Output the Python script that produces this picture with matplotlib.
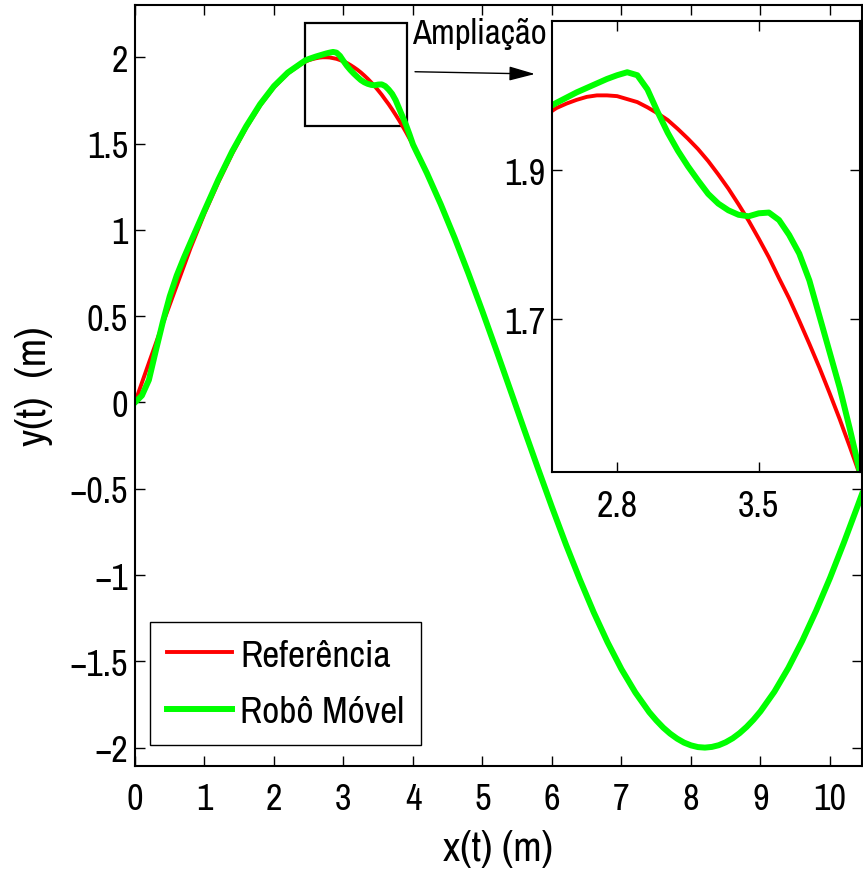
import matplotlib
matplotlib.use("Agg")
import matplotlib.pyplot as plt
from matplotlib.patches import Rectangle

# trajectory samples, x(t) and y(t) in metres (denser around the zoomed peak
# and the trough)
x_ref = [0.0, 0.2, 0.4, 0.6, 0.8, 1.0, 1.2, 1.4, 1.6, 1.8, 2.0, 2.2, 2.4,
         2.45, 2.5, 2.55, 2.6, 2.65, 2.7, 2.75, 2.8, 2.85, 2.9, 2.95, 3.0,
         3.05, 3.1, 3.15, 3.2, 3.25, 3.3, 3.35, 3.4, 3.45, 3.5, 3.55, 3.6,
         3.65, 3.7, 3.75, 3.8, 3.85, 3.9, 3.95, 4.0, 4.05, 4.1,
         4.2, 4.4, 4.6, 4.8, 5.0, 5.2, 5.4, 5.6, 5.8, 6.0, 6.2, 6.4, 6.6,
         6.8, 7.0, 7.2, 7.4, 7.5, 7.6, 7.7, 7.8, 7.9, 8.0, 8.1, 8.2, 8.3,
         8.4, 8.5, 8.6, 8.7, 8.8, 8.9, 9.0, 9.2,
         9.4, 9.6, 9.8, 10.0, 10.2, 10.4, 10.46]
y_ref = [0.0, 0.229, 0.456, 0.676, 0.895, 1.095, 1.276, 1.442, 1.591, 1.720,
         1.826, 1.907, 1.963,
         1.974, 1.983, 1.989, 1.994, 1.998, 2.000, 2.000, 1.999, 1.995, 1.991,
         1.984, 1.976, 1.967, 1.955, 1.942, 1.928, 1.912, 1.894, 1.875, 1.854,
         1.832, 1.808, 1.783, 1.755, 1.728, 1.698, 1.667, 1.635, 1.601, 1.566,
         1.529, 1.491, 1.452, 1.412,
         1.329, 1.148, 0.953, 0.745, 0.527, 0.302, 0.073, -0.157, -0.384,
         -0.607, -0.822, -1.025, -1.216, -1.390, -1.546, -1.681, -1.795,
         -1.842, -1.884, -1.919, -1.948, -1.971, -1.987, -1.997, -2.000,
         -1.996, -1.986, -1.969, -1.946, -1.916, -1.880, -1.838, -1.790,
         -1.676, -1.539, -1.382, -1.207, -1.017, -0.812, -0.597, -0.531]

x_robo = [0.0, 0.1, 0.2, 0.3, 0.4, 0.5, 0.6, 0.7, 0.8, 1.0, 1.2, 1.4, 1.6,
          1.8, 2.0, 2.2, 2.4,
          2.45, 2.5, 2.55, 2.6, 2.65, 2.7, 2.75, 2.8, 2.85, 2.9, 2.95, 3.0,
          3.05, 3.1, 3.15, 3.2, 3.25, 3.3, 3.35, 3.4, 3.45, 3.5, 3.55, 3.6,
          3.65, 3.7, 3.75, 3.8, 3.85, 3.9, 3.95, 4.0, 4.05, 4.1,
          4.2, 4.4, 4.6, 4.8, 5.0, 5.2, 5.4, 5.6, 5.8, 6.0, 6.2, 6.4, 6.6,
          6.8, 7.0, 7.2, 7.4, 7.5, 7.6, 7.7, 7.8, 7.9, 8.0, 8.1, 8.2, 8.3,
          8.4, 8.5, 8.6, 8.7, 8.8, 8.9, 9.0, 9.2,
          9.4, 9.6, 9.8, 10.0, 10.2, 10.4, 10.46]
y_robo = [0.0, 0.04, 0.13, 0.30, 0.465, 0.615, 0.735, 0.835, 0.928, 1.112,
          1.292, 1.456, 1.600, 1.728, 1.833, 1.912, 1.968,
          1.982, 1.990, 1.997, 2.004, 2.010, 2.016, 2.022, 2.027, 2.031, 2.027,
          2.008, 1.978, 1.950, 1.926, 1.905, 1.886, 1.868, 1.855, 1.846, 1.840,
          1.838, 1.842, 1.843, 1.833, 1.813, 1.788, 1.752, 1.704, 1.656, 1.608,
          1.553, 1.495, 1.453, 1.412,
          1.329, 1.148, 0.953, 0.745, 0.527, 0.302, 0.073, -0.157, -0.384,
          -0.607, -0.822, -1.025, -1.216, -1.390, -1.546, -1.681, -1.795,
          -1.842, -1.884, -1.919, -1.948, -1.971, -1.987, -1.997, -2.000,
          -1.996, -1.986, -1.969, -1.946, -1.916, -1.880, -1.838, -1.790,
          -1.676, -1.539, -1.382, -1.207, -1.017, -0.812, -0.597, -0.531]

main_xticks = [0, 1, 2, 3, 4, 5, 6, 7, 8, 9, 10]
main_yticks = [-2, -1.5, -1, -0.5, 0, 0.5, 1, 1.5, 2]
main_yticklabels = ['\u22122', '\u22121.5', '\u22121', '\u22120.5', '0', '0.5', '1', '1.5', '2']
zoom_xticks = [2.8, 3.5]
zoom_yticks = [1.7, 1.9]

plt.rcParams['font.family'] = ['Archivo Narrow', 'Liberation Sans', 'DejaVu Sans']

FS = 26
RED = '#ff0000'
GREEN = '#00ff00'
LW_REF = 2.8
LW_ROBO = 4.3


def style_axes(ax):
    for s in ax.spines.values():
        s.set_linewidth(1.5)
    ax.tick_params(direction='in', top=True, right=True, length=7, width=1.0,
                   labelsize=FS)
    ax.tick_params(axis='x', pad=12)
    ax.tick_params(axis='y', pad=5)


fig = plt.figure(figsize=(8.63, 8.70), dpi=100)
ax = fig.add_axes([0.1564, 0.1187, 0.8424, 0.8744])
ax.plot(x_ref, y_ref, color=RED, lw=LW_REF, label='Referência')
ax.plot(x_robo, y_robo, color=GREEN, lw=LW_ROBO, label='Robô Móvel')
ax.set_xlim(0, 10.46)
ax.set_ylim(-2.105, 2.303)
ax.set_xticks(main_xticks)
ax.set_yticks(main_yticks)
ax.set_yticklabels(main_yticklabels)
style_axes(ax)
ax.set_xlabel('x(t) (m)', fontsize=30, labelpad=10)
ax.set_ylabel('y(t)  (m)', fontsize=30, labelpad=12)

# zoom window on the main plot
ax.add_patch(Rectangle((2.45, 1.6), 1.47, 0.6, fill=False, ec='black', lw=1.6))

leg = ax.legend(loc='lower left', bbox_to_anchor=(0.0206, 0.0276),
                borderaxespad=0, fontsize=27, handlelength=1.75,
                handletextpad=0.2, labelspacing=0.62, borderpad=0.45,
                fancybox=False, framealpha=1)
leg.get_frame().set_edgecolor('black')
leg.get_frame().set_linewidth(1.0)

# inset with the enlarged region
axz = fig.add_axes([0.640, 0.456, 0.3565, 0.519])
axz.plot(x_ref, y_ref, color=RED, lw=LW_REF)
axz.plot(x_robo, y_robo, color=GREEN, lw=LW_ROBO)
axz.set_xlim(2.48, 4.0)
axz.set_ylim(1.495, 2.10)
axz.set_xticks(zoom_xticks)
axz.set_yticks(zoom_yticks)
axz.set_xticklabels(['2.8', '3.5'])
axz.set_yticklabels(['1.7', '1.9'])
style_axes(axz)

fig.text(0.4774, 0.9494, 'Ampliação', fontsize=25, va='baseline', ha='left')
ax.annotate('', xy=(0.6199, 0.9138), xytext=(0.4809, 0.9164),
            xycoords='figure fraction', textcoords='figure fraction',
            arrowprops=dict(arrowstyle='-|>,head_length=0.8,head_width=0.22',
                            color='black', lw=1.0, mutation_scale=20,
                            shrinkA=0, shrinkB=0))

fig.savefig('out.png', dpi=100)
